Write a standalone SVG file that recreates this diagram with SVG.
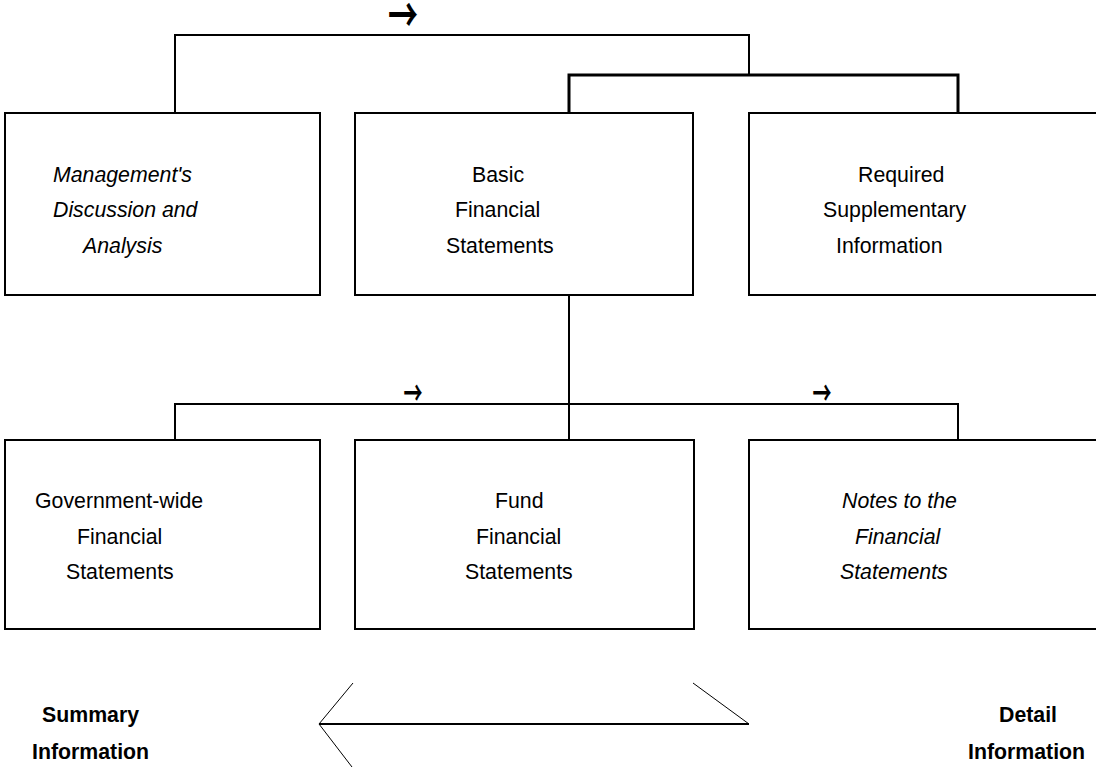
<svg xmlns="http://www.w3.org/2000/svg" width="1096" height="768" viewBox="0 0 1096 768">
<style>
.box{fill:#fff;stroke:#000;stroke-width:2}
.t{font-family:"Liberation Sans",Arial,sans-serif;font-size:21.3px;fill:#000}
.i{font-style:italic}
.b{font-weight:bold}
.c{fill:none;stroke:#000;stroke-width:2}
.ar{font-family:"Noto Sans CJK SC","DejaVu Sans",sans-serif;font-weight:bold;fill:#000}
</style>
<rect width="1096" height="768" fill="#fff"/>
<g id="connectors">
<polyline class="c" points="175,113 175,35 749,35 749,75"/>
<polyline class="c" style="stroke-width:3" points="569,113 569,75 958,75 958,113"/>
<line class="c" x1="569" y1="296" x2="569" y2="440"/>
<polyline class="c" points="175,440 175,404 958,404 958,440"/>
<text class="ar" transform="translate(403,14) scale(1,1.6)" x="0" y="11" font-size="30" text-anchor="middle">→</text>
<text class="ar" transform="translate(413,391) scale(1,1.75)" x="0" y="8.2" font-size="19" text-anchor="middle">→</text>
<text class="ar" transform="translate(822,391) scale(1,1.75)" x="0" y="8.2" font-size="19" text-anchor="middle">→</text>
</g>
<g id="mda">
<rect class="box" x="5" y="113" width="315" height="182"/>
<text class="t i" x="53" y="182">Management's</text>
<text class="t i" x="53" y="217">Discussion and</text>
<text class="t i" x="83" y="253">Analysis</text>
</g>
<g id="basic">
<rect class="box" x="355" y="113" width="338" height="182"/>
<text class="t" x="472" y="182">Basic</text>
<text class="t" x="455" y="217">Financial</text>
<text class="t" x="446" y="253">Statements</text>
</g>
<g id="rsi">
<rect class="box" x="749" y="113" width="360" height="182"/>
<text class="t" x="858" y="182">Required</text>
<text class="t" x="823" y="217">Supplementary</text>
<text class="t" x="836" y="253">Information</text>
</g>
<g id="govwide">
<rect class="box" x="5" y="440" width="315" height="189"/>
<text class="t" x="35" y="508">Government-wide</text>
<text class="t" x="77" y="544">Financial</text>
<text class="t" x="66" y="579">Statements</text>
</g>
<g id="fund">
<rect class="box" x="355" y="440" width="339" height="189"/>
<text class="t" x="495" y="508">Fund</text>
<text class="t" x="476" y="544">Financial</text>
<text class="t" x="465" y="579">Statements</text>
</g>
<g id="notes">
<rect class="box" x="749" y="440" width="360" height="189"/>
<text class="t i" x="842" y="508">Notes to the</text>
<text class="t i" x="855" y="544">Financial</text>
<text class="t i" x="840" y="579">Statements</text>
</g>
<g id="scale-arrow">
<line x1="319" y1="724" x2="749" y2="724" stroke="#000" stroke-width="2"/>
<polyline points="353,683 319,724 352,767" fill="none" stroke="#000" stroke-width="1"/>
<line x1="693" y1="683" x2="749" y2="724" stroke="#000" stroke-width="1"/>
</g>
<g id="summary">
<text class="t b" x="42" y="722">Summary</text>
<text class="t b" x="32" y="759">Information</text>
</g>
<g id="detail">
<text class="t b" x="999" y="722">Detail</text>
<text class="t b" x="968" y="759">Information</text>
</g>
</svg>
